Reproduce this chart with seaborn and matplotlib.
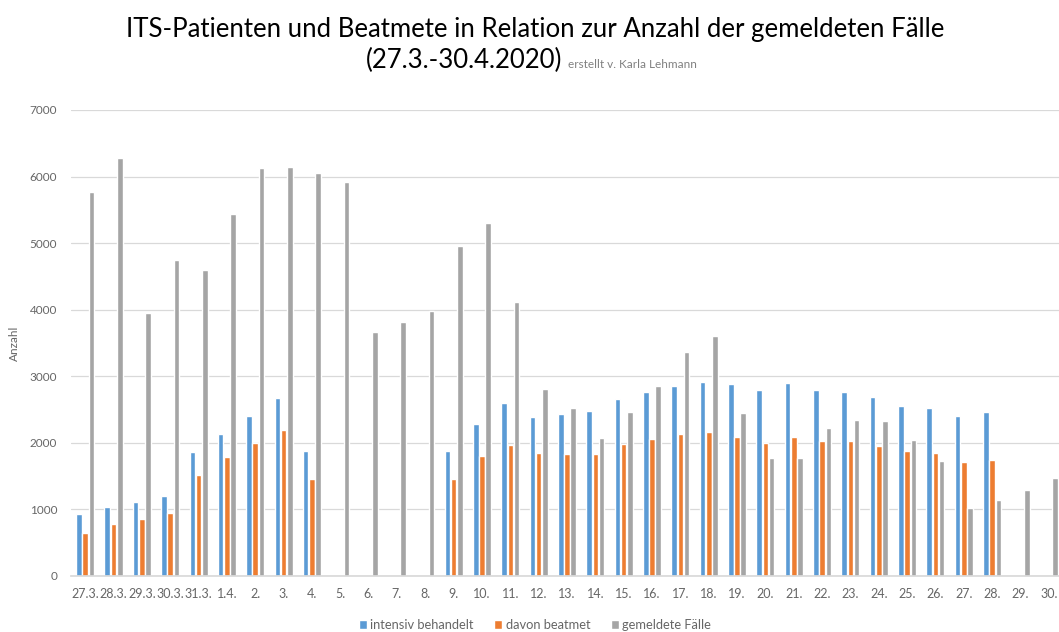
import numpy as np
import pandas as pd
import matplotlib
matplotlib.use("Agg")
import matplotlib.pyplot as plt
import seaborn as sns

categories = ["27.3.", "28.3.", "29.3.", "30.3.", "31.3.", "1.4."] + [f"{d}." for d in range(2, 31)]
intensiv = [930, 1040, 1115, 1205, 1860, 2130, 2410, 2670, 1880, None, None, None, None,
            1880, 2290, 2600, 2395, 2435, 2475, 2665, 2765, 2855, 2910, 2880, 2790, 2900,
            2790, 2765, 2690, 2555, 2525, 2405, 2460, None, None]
beatmet = [640, 780, 850, 940, 1515, 1790, 2005, 2200, 1455, None, None, None, None,
           1455, 1800, 1970, 1850, 1830, 1835, 1990, 2065, 2135, 2170, 2095, 2000, 2095,
           2035, 2035, 1955, 1875, 1845, 1710, 1735, None, None]
gemeldet = [5770, 6280, 3950, 4740, 4600, 5440, 6130, 6150, 6060, 5920, 3660, 3820, 3980,
            4960, 5300, 4120, 2810, 2530, 2070, 2470, 2850, 3370, 3600, 2445, 1770, 1775,
            2230, 2345, 2330, 2050, 1725, 1015, 1135, 1295, 1475]
series_names = ["intensiv behandelt", "davon beatmet", "gemeldete Fälle"]
colors = ["#5B9BD5", "#ED7D31", "#A5A5A5"]

rows = []
for name, vals in zip(series_names, [intensiv, beatmet, gemeldet]):
    for c, v in zip(categories, vals):
        if v is not None:
            rows.append({"Tag": c, "Serie": name, "Wert": v})
df = pd.DataFrame(rows)

sns.set_theme(style="white")
plt.rcParams["font.family"] = ["Lato", "DejaVu Sans"]

fig = plt.figure(figsize=(10.59, 6.32), dpi=100)
ax = fig.add_axes([71 / 1059, 1 - 576 / 632, (1063 - 71) / 1059, (576 - 110) / 632])

sns.barplot(data=df, x="Tag", y="Wert", hue="Serie", order=categories,
            hue_order=series_names, palette=colors, errorbar=None,
            width=0.66, gap=0.1, ax=ax, legend=True, saturation=1)

ax.set_ylim(0, 7000)
ax.set_xlim(-0.5, len(categories) - 0.5)
ax.set_yticks(range(0, 7001, 1000))
ax.yaxis.grid(True, color="#d9d9d9", linewidth=0.9)
ax.set_axisbelow(True)
for s in ["top", "right", "left"]:
    ax.spines[s].set_visible(False)
ax.spines["bottom"].set_color("#d9d9d9")
ax.tick_params(axis="both", length=0, colors="#666666")
ax.tick_params(axis="y", labelsize=8.5, pad=10)
ax.tick_params(axis="x", labelsize=9, pad=9)
ax.set_xlabel("")
ax.set_ylabel("Anzahl", fontsize=8.5, color="#666666", labelpad=7)

handles, labels = ax.get_legend_handles_labels()
ax.get_legend().remove()
fig.legend(handles, labels, loc="center", bbox_to_anchor=(535 / 1059, 1 - 625 / 632),
           ncol=3, frameon=False, fontsize=9.3, labelcolor="#666666",
           handlelength=0.62, handleheight=0.62, handletextpad=0.25, columnspacing=1.6)

fig.text(535 / 1059, 1 - 37 / 632, "ITS-Patienten und Beatmete in Relation zur Anzahl der gemeldeten Fälle",
         ha="center", va="baseline", fontsize=18.5, color="#000000")
fig.text(562 / 1059, 1 - 68 / 632, "(27.3.-30.4.2020)", ha="right", va="baseline",
         fontsize=18.5, color="#000000")
fig.text(568 / 1059, 1 - 68 / 632, "erstellt v. Karla Lehmann", ha="left", va="baseline",
         fontsize=8.5, color="#808080")

fig.savefig("out.png", dpi=100)
